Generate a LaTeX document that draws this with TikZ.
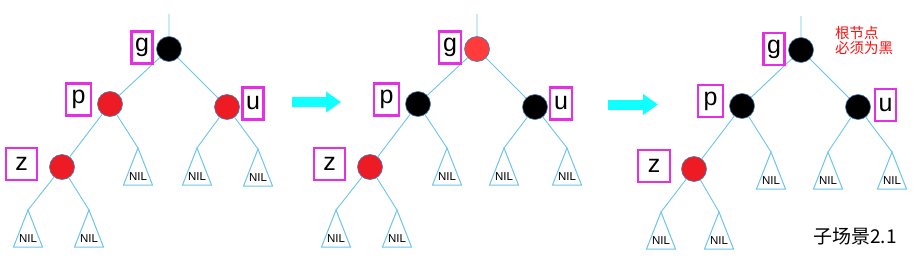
\documentclass[tikz,border=0pt]{standalone}
\usepackage{fontspec}
\setmainfont{Liberation Sans}
\newfontfamily\cjk{Noto Sans CJK SC}
\usetikzlibrary{arrows.meta}

\tikzset{
  rbnode/.style={circle, minimum size=25pt, inner sep=0pt,
                 draw=nodeedge, line width=0.6pt},
  lbl/.style={draw=lblclr, line width=2.2pt, inner sep=0pt,
              minimum height=32pt, font=\fontsize{25}{25}\selectfont},
  treeedge/.style={draw=edgeclr, line width=0.9pt},
  bigarrow/.style={draw=arrowclr, line width=10pt,
                   -{Triangle[length=15pt,width=20pt]}},
  nil/.pic={
    \coordinate (-top) at (0,0);
    \draw[edgeclr, line width=1pt, line join=miter]
         (0,0) -- (-14.5,37) -- (14.5,37) -- cycle;
    \node[inner sep=0pt, font=\fontsize{11.5}{11.5}\selectfont]
         (-txt) at (0,29) {NIL};
  },
}

\begin{document}
\begin{tikzpicture}[x=1pt, y=-1pt]

\definecolor{rbred}{HTML}{ED1C24}
\definecolor{rblight}{HTML}{FF3B3B}
\colorlet{rbblack}{black}
\definecolor{nodeedge}{HTML}{4A78B0}
\definecolor{edgeclr}{HTML}{6CC4EC}
\definecolor{lblclr}{HTML}{E62EE6}
\definecolor{arrowclr}{HTML}{10FFFF}
\definecolor{noteclr}{HTML}{FF1010}

\useasboundingbox (0,0) rectangle (920,262);

% ---- (1) first tree: p and u red --------------------------------
\coordinate (r1) at (169,14);
\node[rbnode, fill=rbblack] (g1) at (169,49)  {};
\node[rbnode, fill=rbred]   (p1) at (110,104) {};
\node[rbnode, fill=rbred]   (u1) at (227,107) {};
\node[rbnode, fill=rbred]   (z1) at (62,167)  {};
\pic (n1p)  at (138,148) {nil};
\pic (n1ul) at (197,148) {nil};
\pic (n1ur) at (258,149) {nil};
\pic (n1zl) at (28,210)  {nil};
\pic (n1zr) at (89,210)  {nil};
\draw[treeedge] (r1) -- (g1)  (g1) -- (p1)  (g1) -- (u1)
                (p1) -- (z1)  (p1) -- (n1p-top)
                (u1) -- (n1ul-top)  (u1) -- (n1ur-top)
                (z1) -- (n1zl-top)  (z1) -- (n1zr-top);
\node[lbl, minimum width=21pt] (lg1) at (142,47.5)  {g};
\node[lbl, minimum width=25pt] (lp1) at (78.5,99.5) {p};
\node[lbl, minimum width=21pt] (lu1) at (253,103.5) {u};
\node[lbl, minimum width=31pt] (lz1) at (21.5,164)  {z};

% ---- (2) second tree: g red, p and u black ----------------------
\coordinate (r2) at (477,14);
\node[rbnode, fill=rblight] (g2) at (477,49)  {};
\node[rbnode, fill=rbblack] (p2) at (418,104) {};
\node[rbnode, fill=rbblack] (u2) at (535,107) {};
\node[rbnode, fill=rbred]   (z2) at (370,167) {};
\pic (n2p)  at (447,148) {nil};
\pic (n2ul) at (504,148) {nil};
\pic (n2ur) at (567,148) {nil};
\pic (n2zl) at (336,210) {nil};
\pic (n2zr) at (397,210) {nil};
\draw[treeedge] (r2) -- (g2)  (g2) -- (p2)  (g2) -- (u2)
                (p2) -- (z2)  (p2) -- (n2p-top)
                (u2) -- (n2ul-top)  (u2) -- (n2ur-top)
                (z2) -- (n2zl-top)  (z2) -- (n2zr-top);
\node[lbl, minimum width=22pt] (lg2) at (450,47.5)  {g};
\node[lbl, minimum width=25pt] (lp2) at (386.5,99.5) {p};
\node[lbl, minimum width=22pt] (lu2) at (561,103.5) {u};
\node[lbl, minimum width=31pt] (lz2) at (329.5,164) {z};

% ---- (3) third tree: root back to black -------------------------
\coordinate (r3) at (801,16);
\node[rbnode, fill=rbblack] (g3) at (801,50)  {};
\node[rbnode, fill=rbblack] (p3) at (742,106) {};
\node[rbnode, fill=rbblack] (u3) at (858,107) {};
\node[rbnode, fill=rbred]   (z3) at (694,169) {};
\pic (n3p)  at (771,152) {nil};
\pic (n3ul) at (828,152) {nil};
\pic (n3ur) at (892,152) {nil};
\pic (n3zl) at (661,212) {nil};
\pic (n3zr) at (719,212) {nil};
\draw[treeedge] (r3) -- (g3)  (g3) -- (p3)  (g3) -- (u3)
                (p3) -- (z3)  (p3) -- (n3p-top)
                (u3) -- (n3ul-top)  (u3) -- (n3ur-top)
                (z3) -- (n3zl-top)  (z3) -- (n3zr-top);
\node[lbl, minimum width=21pt] (lg3) at (774,49)    {g};
\node[lbl, minimum width=25pt] (lp3) at (710.5,101) {p};
\node[lbl, minimum width=21pt] (lu3) at (885.5,105) {u};
\node[lbl, minimum width=32pt] (lz3) at (654,166)   {z};

% ---- (4) arrows between the steps -------------------------------
\coordinate (a1s) at (292,102);
\coordinate (a1e) at (341,102);
\coordinate (a2s) at (608,104.5);
\coordinate (a2e) at (658,104.5);
\draw[bigarrow] (a1s) -- (a1e);
\draw[bigarrow] (a2s) -- (a2e);

% ---- (5) notes --------------------------------------------------
\node[anchor=north west, inner sep=0pt, align=left, text=noteclr,
      font=\cjk\fontsize{14.5}{15}\selectfont]
     (note) at (835,26) {根节点\\必须为黑};
\node[anchor=west, inner sep=0pt, font=\cjk\fontsize{19}{19}\selectfont]
     (title) at (813,236) {子场景2.1};

\end{tikzpicture}
\end{document}
